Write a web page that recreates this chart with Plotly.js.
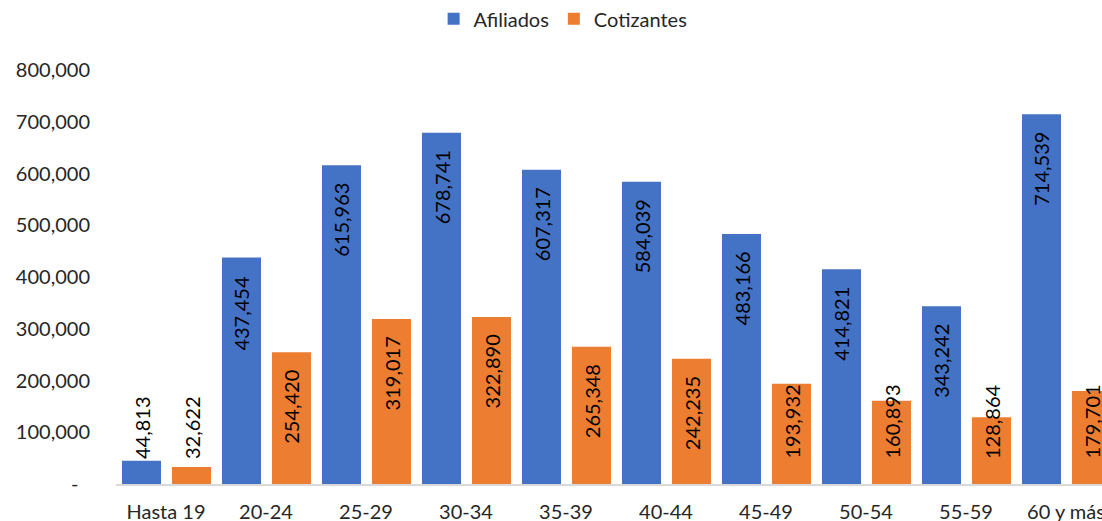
<!DOCTYPE html>
<html>
<head>
<meta charset="utf-8">
<script src="https://cdn.plot.ly/plotly-3.0.1.min.js"></script>
<style>
  html, body { margin: 0; padding: 0; background: #fff; }
  #chart { width: 1102px; height: 521px; }
</style>
</head>
<body>
<div id="chart"></div>
<script>
// Age groups and counts of affiliates / contributors
const categories = ["Hasta 19", "20-24", "25-29", "30-34", "35-39", "40-44", "45-49", "50-54", "55-59", "60 y más"];
const afiliados = [44813, 437454, 615963, 678741, 607317, 584039, 483166, 414821, 343242, 714539];
const cotizantes = [32622, 254420, 319017, 322890, 265348, 242235, 193932, 160893, 128864, 179701];
const yTicks = [0, 100000, 200000, 300000, 400000, 500000, 600000, 700000, 800000];

const BLUE = "#4472C4";
const ORANGE = "#ED7D31";
const FONT = "Lato, 'Open Sans', sans-serif";

const fmt = v => v.toLocaleString("en-US");
const yTickText = yTicks.map(v => (v === 0 ? "-\u2007" : fmt(v)));

const traces = [
  {
    type: "bar", name: "Afiliados", x: categories, y: afiliados,
    marker: { color: BLUE }, width: 0.39, offset: -0.44,
    hoverinfo: "x+y"
  },
  {
    type: "bar", name: "Cotizantes", x: categories, y: cotizantes,
    marker: { color: ORANGE }, width: 0.39, offset: 0.06,
    hoverinfo: "x+y"
  }
];

// Rotated value labels: hang below the bar top; short bars get the label
// lifted to a fixed height above the baseline.
const CLAMP_BELOW = 222000;
function labelsFor(values, xshift) {
  return values.map((v, i) => {
    const low = v < CLAMP_BELOW;
    return {
      xref: "x", yref: "y", x: categories[i],
      y: low ? 0 : v,
      xshift: xshift,
      yshift: low ? 23 : -16,
      yanchor: low ? "bottom" : "top",
      xanchor: "center",
      textangle: -90,
      text: fmt(v),
      showarrow: false,
      font: { family: FONT, size: 20, color: "#000" }
    };
  });
}

const annotations = [
  ...labelsFor(afiliados, -24.5),
  ...labelsFor(cotizantes, 25.5)
];

const layout = {
  width: 1102, height: 521,
  margin: { l: 116, r: 0, t: 70, b: 37 },
  paper_bgcolor: "#fff", plot_bgcolor: "#fff",
  barmode: "overlay",
  font: { family: FONT, size: 20, color: "#262626" },
  showlegend: true,
  legend: {
    orientation: "h",
    xref: "container", yref: "container",
    x: 0.511, xanchor: "center",
    y: 0.964, yanchor: "middle",
    font: { family: FONT, size: 20, color: "#262626" },
    itemwidth: 30
  },
  xaxis: {
    type: "category",
    range: [-0.5, 9.36],
    showline: true, linecolor: "#D9D9D9", linewidth: 1.5,
    ticks: "", showgrid: false, zeroline: false,
    ticklabelstandoff: 9,
    tickfont: { family: FONT, size: 20, color: "#262626" },
    fixedrange: true
  },
  yaxis: {
    range: [0, 800000],
    tickmode: "array", tickvals: yTicks, ticktext: yTickText,
    showline: false, showgrid: false, zeroline: false, ticks: "",
    ticklabelstandoff: 25,
    tickfont: { family: FONT, size: 20, color: "#262626" },
    fixedrange: true
  },
  annotations: annotations
};

Plotly.newPlot("chart", traces, layout, { displayModeBar: false, staticPlot: true });
</script>
</body>
</html>
